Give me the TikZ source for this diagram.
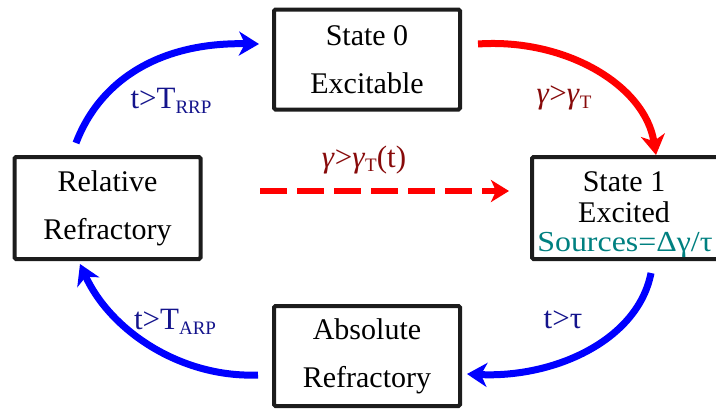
\documentclass[tikz,border=0pt]{standalone}
\usepackage{fontspec}
\setmainfont{Liberation Serif}
\usetikzlibrary{arrows.meta}
\definecolor{lblblue}{RGB}{20,20,140}
\definecolor{lblred}{RGB}{135,10,10}
\definecolor{srcteal}{RGB}{0,128,128}
\definecolor{boxline}{RGB}{28,28,28}
\newcommand{\sbs}[1]{{\fontsize{19}{19}\selectfont\raisebox{-4.5pt}{#1}}}
\newcommand{\gam}{\textit{γ}}
\tikzset{
  statebox/.style={draw=boxline, line width=4pt, rounded corners=1.5pt, minimum width=186pt, minimum height=100pt, inner sep=0pt, align=center, font=\fontsize{30}{48}\selectfont},
  bluearc/.style={draw=blue, line width=7pt, -{Stealth[length=20pt,width=24pt,inset=6pt]}},
  redarc/.style={draw=red, line width=7pt, -{Stealth[length=20pt,width=24pt,inset=6pt]}},
  reddash/.style={draw=red, line width=6pt, dash pattern=on 27pt off 10pt, -{Stealth[length=18pt,width=22pt,inset=5pt]}},
  bluelbl/.style={text=lblblue, font=\fontsize{31}{31}\selectfont, inner sep=0pt},
  redlbl/.style={text=lblred, font=\fontsize{31}{31}\selectfont, inner sep=0pt}
}
\begin{document}
\begin{tikzpicture}[x=1pt,y=-1pt]
\useasboundingbox (0,0) rectangle (716,410);
\clip (0,0) rectangle (716,410);
\node[statebox] (s0) at (367,59.5) {State 0\\Excitable};
\node[statebox, minimum height=102pt] (rr) at (107.5,208) {Relative\\Refractory};
\node[statebox, minimum height=102pt, minimum width=190pt] (s1) at (627,208) {};
\node[statebox] (ar) at (367,356) {Absolute\\Refractory};
\node[font=\fontsize{30}{30}\selectfont, inner sep=0pt] (s1a) at (624,182) {State 1};
\node[font=\fontsize{30}{30}\selectfont, inner sep=0pt] (s1b) at (624,212.5) {Excited};
\node[font=\fontsize{29}{29}\selectfont, text=srcteal, inner sep=0pt] (s1c) at (625,245) {\scalebox{1.1}[1]{Sources=Δγ/τ}};
% connector end points
\coordinate (a1s) at (76,143);
\coordinate (a1e) at (259,44);
\coordinate (a2s) at (478,44);
\coordinate (a2e) at (656,155);
\coordinate (a3s) at (651,273);
\coordinate (a3e) at (467,374);
\coordinate (a4s) at (258,375);
\coordinate (a4e) at (80,264);
\coordinate (dS) at (260,191);
\coordinate (dE) at (509,191);
\draw[bluearc] (a1s) .. controls (100,80) and (160,42) .. (a1e);
\draw[redarc] (a2s) .. controls (565,38) and (645,85) .. (a2e);
\draw[bluearc] (a3s) .. controls (638,340) and (555,378) .. (a3e);
\draw[bluearc] (a4s) .. controls (180,378) and (110,330) .. (a4e);
\draw[reddash] (dS) -- (dE);
\node[bluelbl] (l1) at (171,101) {t>T\sbs{RRP}};
\node[redlbl] (l2) at (564,98) {\gam>\gam\sbs{T}};
\node[redlbl] (l3) at (364,160) {\gam>\gam\sbs{T}(t)};
\node[bluelbl] (l4) at (563,320) {t>τ};
\node[bluelbl] (l5) at (175,322) {t>T\sbs{ARP}};
\end{tikzpicture}
\end{document}
